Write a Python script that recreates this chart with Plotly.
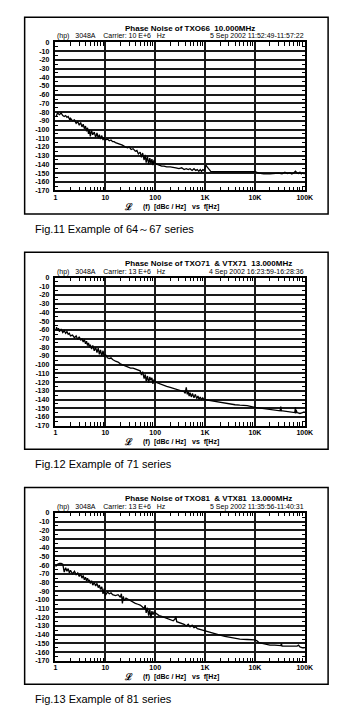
import plotly.graph_objects as go

# ---------------- data ----------------
x_tick_vals = [1, 10, 100, 1000, 10000, 100000]
x_tick_text = ["1", "10", "100", "1K", "10K", "100K"]
y_tick_vals = [0, -10, -20, -30, -40, -50, -60, -70, -80, -90, -100, -110, -120, -130, -140, -150, -160, -170]
y_tick_text = ["0", "-10", "-20", "-30", "-40", "-50", "-60", "-70", "-80", "-90", "-100", "-110", "-120", "-130", "-140", "-150", "-160", "-170"]

f66 = [1.0, 1.05, 1.1, 1.2, 1.3, 1.4, 1.5, 1.6, 1.7, 1.8, 1.9, 2.0, 2.2, 2.4, 2.6, 2.8, 3.0, 3.2, 3.4, 3.6, 3.8,
       4.0, 4.2, 4.4, 4.6, 4.8, 5.0, 5.3, 5.6, 6.0, 6.4, 6.8, 7.2, 7.6, 8.0, 8.5, 9.0, 9.5, 10, 11, 12, 13, 14, 15,
       16, 18, 20, 22, 25, 28, 30, 33, 36, 40, 43, 46, 50, 53, 56, 60, 63, 66, 70, 74, 78, 82, 86, 90, 95, 100, 110,
       120, 135, 150, 170, 200, 230, 260, 300, 340, 380, 420, 460, 500, 550, 600, 650, 700, 750, 800, 850, 900, 950,
       1000, 1050, 1100, 1200, 1300, 1500, 2000, 3000, 4000, 5000, 6000, 8000, 10000, 12000, 15000, 20000, 25000,
       30000, 35000, 40000, 45000, 50000, 55000, 60000, 65000, 70000, 75000, 80000, 85000, 90000, 100000]
db66 = [-85, -84, -81, -83, -81, -84, -85, -84, -86, -85, -88, -87, -90, -89, -93, -91, -95, -92, -97, -94, -99,
        -96, -102, -98, -105, -100, -108, -101, -106, -103, -109, -104, -110, -106, -111, -107, -112, -109, -112,
        -111, -113, -112, -114, -114, -115, -116, -117, -118, -120, -121, -120, -123, -122, -125, -124, -128, -126,
        -132, -127, -135, -129, -138, -131, -140, -133, -139, -134, -141, -135, -139, -140, -141, -142, -142, -143,
        -143, -144, -144, -145, -144, -146, -145, -146, -145, -147, -145, -147, -146, -148, -146, -148, -146, -147,
        -144, -141, -143, -146, -148, -148.5, -148.5, -148.5, -148, -148, -148.5, -148.5, -148.5, -150, -151, -151,
        -150.5, -150, -151, -149, -150.5, -149.5, -151, -150, -148, -150, -150.5, -149, -151, -150, -151]

f71 = [1.0, 1.05, 1.1, 1.15, 1.2, 1.3, 1.4, 1.5, 1.6, 1.7, 1.8, 1.9, 2.0, 2.2, 2.4, 2.6, 2.8, 3.0, 3.2, 3.4, 3.6,
       3.8, 4.0, 4.2, 4.4, 4.6, 4.8, 5.0, 5.3, 5.6, 6.0, 6.4, 6.8, 7.2, 7.6, 8.0, 8.5, 9.0, 9.5, 10, 11, 12, 13, 14,
       16, 18, 20, 22, 25, 28, 32, 36, 40, 45, 50, 53, 56, 60, 63, 66, 70, 74, 78, 82, 86, 90, 95, 100, 110, 120,
       135, 150, 170, 200, 230, 260, 300, 340, 380, 400, 420, 440, 460, 480, 500, 530, 560, 600, 640, 680, 720, 760,
       800, 850, 900, 950, 1000, 1200, 1500, 2000, 2500, 3000, 4000, 5000, 7000, 10000, 13000, 16000, 20000, 25000,
       30000, 32000, 33000, 34000, 36000, 40000, 45000, 50000, 55000, 60000, 63000, 65000, 66000, 67000, 70000,
       75000, 80000, 90000, 100000]
db71 = [-60, -57, -61, -58, -62, -59, -63, -61, -64, -62, -65, -64, -67, -66, -69, -67, -71, -68, -72, -70, -74,
        -71, -76, -73, -78, -75, -80, -77, -82, -78, -84, -80, -86, -81, -88, -83, -90, -84, -91, -88, -92, -93, -92,
        -94, -96, -97, -99, -100, -101, -102, -104, -104, -105, -106, -107, -112, -108, -116, -111, -119, -113, -121,
        -114, -118, -115, -122, -117, -120, -121, -122, -123, -124, -125, -126, -127, -128, -129, -130, -131, -133,
        -126, -134, -131, -136, -132, -137, -133, -138, -134, -139, -136, -140, -137, -140, -138, -140, -140, -141,
        -142, -143.5, -144.5, -145, -146, -146.5, -147, -149, -150, -151, -152, -152.5, -153, -153, -148, -153, -153,
        -153.5, -154, -154, -154.5, -155, -155, -149, -156, -152, -155, -155.5, -156, -155, -154]

f81 = [1.0, 1.1, 1.2, 1.3, 1.4, 1.45, 1.5, 1.6, 1.7, 1.8, 1.9, 2.0, 2.2, 2.4, 2.6, 2.8, 3.0, 3.2, 3.4, 3.6, 3.8,
       4.0, 4.2, 4.4, 4.6, 4.8, 5.0, 5.3, 5.6, 6.0, 6.4, 6.8, 7.2, 7.6, 8.0, 8.5, 9.0, 9.5, 10, 11, 12, 13, 14, 16,
       18, 20, 21, 22, 23, 24, 26, 28, 32, 36, 40, 45, 50, 55, 60, 63, 66, 70, 74, 78, 82, 86, 90, 95, 100, 110, 120,
       135, 150, 170, 200, 230, 250, 260, 270, 300, 340, 380, 420, 460, 500, 550, 600, 650, 700, 800, 900, 1000,
       1200, 1500, 2000, 2500, 3000, 4000, 5000, 7000, 10000, 11000, 12000, 14000, 17000, 20000, 25000, 30000,
       33000, 34000, 35000, 40000, 50000, 60000, 70000, 75000, 80000, 90000, 100000]
db81 = [-62, -59, -58, -58, -59, -66, -68, -63, -67, -64, -69, -66, -70, -67, -71, -69, -73, -70, -75, -72, -77,
        -74, -78, -75, -79, -77, -81, -78, -83, -80, -84, -81, -86, -83, -88, -85, -93, -87, -95, -91, -93, -92, -94,
        -95, -94, -97, -93, -104, -96, -101, -98, -99, -101, -102, -104, -105, -106, -108, -110, -106, -115, -109,
        -118, -111, -121, -113, -117, -114, -115, -117, -118, -119, -120, -121, -122, -124, -122, -119, -125, -126,
        -127, -128, -130, -128, -131, -129, -132, -131, -133, -134, -135, -136, -137, -139, -140.5, -142, -143,
        -144, -145, -145.5, -146, -147, -149, -150, -151, -152, -152, -152.5, -152.5, -150, -153, -153, -153,
        -153.5, -153, -152, -154, -155, -155]

titles = ["Phase Noise of TXO66  10.000MHz",
          "Phase Noise of TXO71  & VTX71  13.000MHz",
          "Phase Noise of TXO81  & VTX81  13.000MHz"]
carriers = ["Carrier: 10 E+6", "Carrier: 13 E+6", "Carrier: 13 E+6"]
dates = ["5 Sep 2002 11:52:49-11:57:22",
         "4 Sep 2002 16:23:59-16:28:36",
         "5 Sep 2002 11:35:56-11:40:31"]
captions = ["Fig.11 Example of 64～67 series",
            "Fig.12 Example of 71 series",
            "Fig.13 Example of 81 series"]

# ---------------- layout helpers ----------------
W, H = 357, 720
STEP = 237.5


def px(x):
    return x / W


def py(y):
    return 1 - y / H


series = [(f66, db66), (f71, db71), (f81, db81)]
minor_x = [m * 10 ** d for d in range(5) for m in range(2, 10)]

fig = go.Figure()
layout = dict(width=W, height=H, margin=dict(l=0, r=0, t=0, b=0),
              paper_bgcolor="white", plot_bgcolor="white", showlegend=False)
shapes = []
annotations = []

bold_small = dict(family="Liberation Sans", size=7, color="black", weight="bold")
hdr_font = dict(family="Liberation Sans", size=7, color="#000000")

for i, (fx, dy) in enumerate(series):
    off = STEP * i
    n = "" if i == 0 else str(i + 1)
    top, bot = 38.8 + off, 188.3 + off
    left, right = 55.0, 311.5
    fig.add_trace(go.Scatter(x=fx, y=dy, mode="lines", xaxis="x" + n, yaxis="y" + n,
                             line=dict(color="black", width=1.3), hoverinfo="skip"))
    layout["xaxis" + n] = dict(
        type="log", range=[0, 5], domain=[px(left), px(right)], anchor="y" + n,
        tickmode="array", tickvals=x_tick_vals, ticktext=x_tick_text,
        ticks="", showgrid=True, gridcolor="#1a1a1a", gridwidth=1.8,
        showline=True, linecolor="black", linewidth=1.5, mirror="ticks",
        tickfont=bold_small, ticklabelstandoff=-1, zeroline=False,
        minor=dict(tickvals=minor_x, ticks="inside", ticklen=3.5, tickcolor="black",
                   tickwidth=1, showgrid=False),
    )
    layout["yaxis" + n] = dict(
        range=[-170, 0], domain=[py(bot), py(top)], anchor="x" + n,
        tickmode="array", tickvals=y_tick_vals, ticktext=y_tick_text,
        ticks="", showgrid=True, gridcolor="#1a1a1a", gridwidth=1.8,
        showline=True, linecolor="black", linewidth=1.5, mirror="ticks",
        tickfont=bold_small, ticklabelstandoff=3, zeroline=False,
        minor=dict(tickvals=[v - 5 for v in y_tick_vals[:-1]], ticks="inside", ticklen=3,
                   tickcolor="black", tickwidth=1, showgrid=False),
    )
    # outer frame
    shapes.append(dict(type="rect", xref="paper", yref="paper",
                       x0=px(23.3), x1=px(335.5), y0=py(212 + off), y1=py(13.3 + off),
                       line=dict(color="black", width=1.5)))
    # title and header
    annotations.append(dict(text=titles[i], x=px(125), y=py(24.5 + off), xref="paper", yref="paper",
                            xanchor="left", yanchor="middle", showarrow=False,
                            font=dict(family="Liberation Sans", size=8, color="black", weight="bold")))
    hdr_left = "[hp]\u00a0\u00a0\u00a03048A\u00a0\u00a0\u00a0\u00a0" + carriers[i] + "\u00a0\u00a0\u00a0Hz"
    annotations.append(dict(text=hdr_left.replace("[hp]", "(hp)"), x=px(55), y=py(32.8 + off),
                            xref="paper", yref="paper", xanchor="left", yanchor="middle",
                            showarrow=False, font=hdr_font))
    annotations.append(dict(text=dates[i], x=px(313), y=py(32.8 + off), xref="paper", yref="paper",
                            xanchor="right", yanchor="middle", showarrow=False, font=hdr_font))
    # x label
    annotations.append(dict(text="ℒ", x=px(130), y=py(205 + off), xref="paper", yref="paper",
                            xanchor="center", yanchor="middle", showarrow=False,
                            font=dict(family="DejaVu Serif", size=9, color="black", weight="bold")))
    annotations.append(dict(text="(f)\u00a0\u00a0[dBc / Hz]\u00a0\u00a0 vs\u00a0 f[Hz]",
                            x=px(143), y=py(205 + off), xref="paper", yref="paper",
                            xanchor="left", yanchor="middle", showarrow=False,
                            font=dict(family="Liberation Sans", size=7, color="black", weight="bold")))
    # caption
    annotations.append(dict(text=captions[i], x=px(31.5), y=py(227 + off), xref="paper", yref="paper",
                            xanchor="left", yanchor="middle", showarrow=False,
                            font=dict(family="Liberation Sans", size=11, color="black")))

layout["shapes"] = shapes
layout["annotations"] = annotations
fig.update_layout(**layout)
fig.write_html("out.html", config={"displayModeBar": False},
               post_script="document.body.style.margin='0';document.body.style.padding='0';")
